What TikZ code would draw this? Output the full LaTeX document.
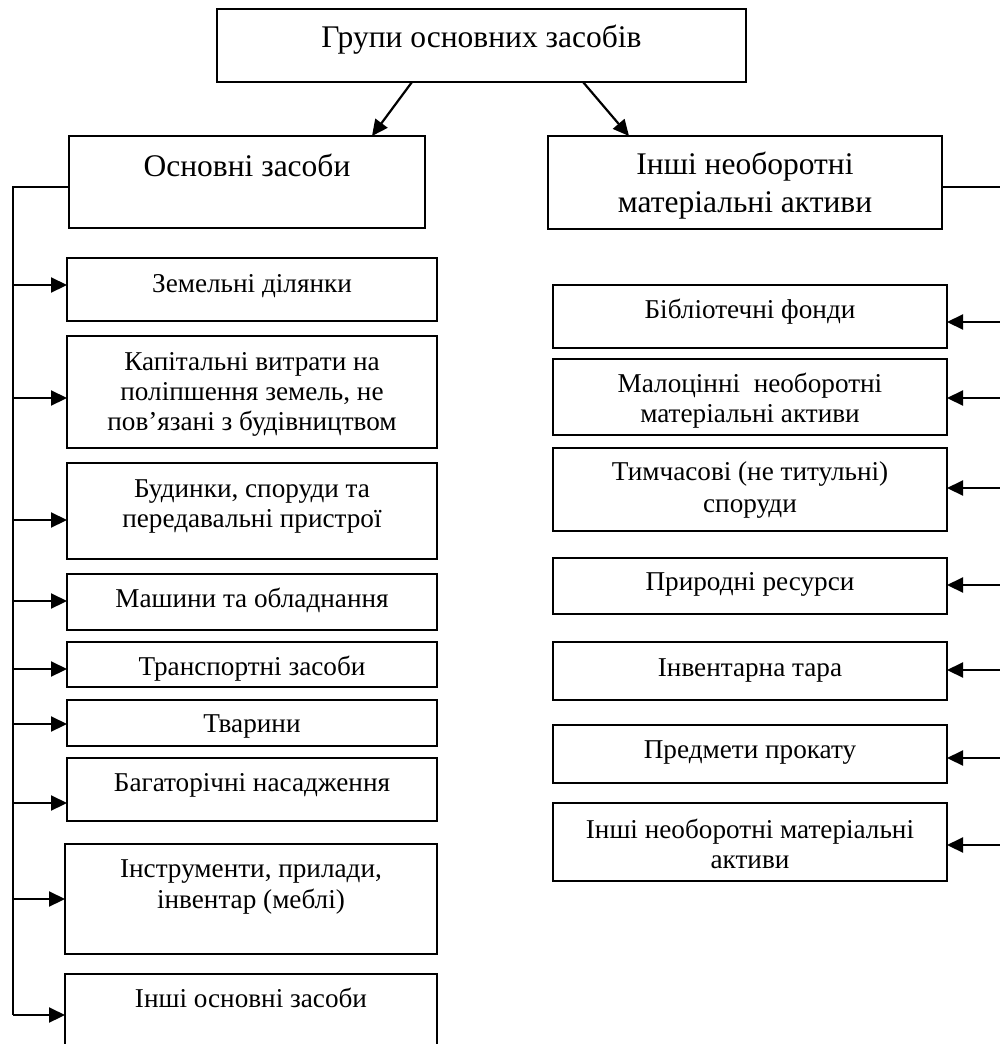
\documentclass[tikz,border=0pt]{standalone}
\usepackage{fontspec}
\setmainfont{Liberation Serif}
\usetikzlibrary{arrows.meta}
\tikzset{
  boxst/.style={draw, line width=2.2pt, inner sep=0pt, outer sep=0pt},
  big/.style={font=\fontsize{31.5}{38}\selectfont, anchor=base, inner sep=0pt},
  sml/.style={font=\fontsize{27.2}{30}\selectfont, anchor=base, inner sep=0pt},
  conn/.style={line width=2.2pt},
  arr/.style={line width=2.2pt, -{Triangle[length=16pt,width=15pt]}}
}
\newcommand{\bx}[5]{%
  \node[boxst, minimum width={(#4)-(#2)}, minimum height={(#5)-(#3)}] (#1) at ({((#2)+(#4))/2},{((#3)+(#5))/2}) {};}
\begin{document}
\begin{tikzpicture}[x=1pt,y=-1pt]
\useasboundingbox (0,0) rectangle (1000,1044);
\clip (0,0) rectangle (1000,1044);
\fill[white] (0,0) rectangle (1000,1044);
% top level
\bx{top}{217}{9}{746}{82}
\node[big] at (481.5,47) {Групи основних засобів};
\bx{os}{69}{136}{425}{228}
\node[big] at (247,176) {Основні засоби};
\bx{ina}{548}{136}{942}{229}
\node[big] at (745,174) {Інші необоротні};
\node[big] at (745,212) {матеріальні активи};
\draw[arr] ([xshift=-69.5pt]top.south) -- ([xshift=125pt]os.north);
\draw[arr] ([xshift=101.5pt]top.south) -- ([xshift=-116pt]ina.north);
% left column
\bx{l1}{67}{258}{437}{321}
\node[sml] at (252,292) {Земельні ділянки};
\bx{l2}{67}{336}{437}{448}
\node[sml] at (252,370) {Капітальні витрати на};
\node[sml] at (252,400) {поліпшення земель, не};
\node[sml] at (252,430) {пов’язані з будівництвом};
\bx{l3}{67}{463}{437}{559}
\node[sml] at (252,497) {Будинки, споруди та};
\node[sml] at (252,527) {передавальні пристрої};
\bx{l4}{67}{574}{437}{630}
\node[sml] at (252,607) {Машини та обладнання};
\bx{l5}{67}{642}{437}{687}
\node[sml] at (252,675) {Транспортні засоби};
\bx{l6}{67}{700}{437}{746}
\node[sml] at (252,732) {Тварини};
\bx{l7}{67}{758}{437}{821}
\node[sml] at (252,791) {Багаторічні насадження};
\bx{l8}{65}{844}{437}{954}
\node[sml] at (251,877) {Інструменти, прилади,};
\node[sml] at (251,908) {інвентар (меблі)};
\bx{l9}{65}{974}{437}{1070}
\node[sml] at (251,1007) {Інші основні засоби};
% right column
\bx{r1}{553}{285}{947}{348}
\node[sml] at (750,318) {Бібліотечні фонди};
\bx{r2}{553}{359}{947}{435}
\node[sml] at (750,392) {Малоцінні\ \ необоротні};
\node[sml] at (750,422) {матеріальні активи};
\bx{r3}{553}{448}{947}{531}
\node[sml] at (750,480) {Тимчасові (не титульні)};
\node[sml] at (750,512) {споруди};
\bx{r4}{553}{558}{947}{614}
\node[sml] at (750,590) {Природні ресурси};
\bx{r5}{553}{642}{947}{700}
\node[sml] at (750,676) {Інвентарна тара};
\bx{r6}{553}{725}{947}{783}
\node[sml] at (750,758) {Предмети прокату};
\bx{r7}{553}{803}{947}{881}
\node[sml] at (750,838) {Інші необоротні матеріальні};
\node[sml] at (750,868) {активи};
% left bus
\coordinate (ltop) at (13,187);
\coordinate (lbot) at (13,1015);
\draw[conn] (ltop -| os.west) -- (ltop) -- (lbot);
\foreach \n/\y in {l1/285,l2/398,l3/520,l4/601,l5/669,l6/724,l7/803,l8/899,l9/1015}{
  \coordinate (la) at (13,\y);
  \draw[arr] (la) -- (la -| \n.west);
}
% right bus
\coordinate (rtop) at (1004,187);
\coordinate (rbot) at (1004,845);
\draw[conn] (rtop -| ina.east) -- (rtop) -- (rbot);
\foreach \n/\y in {r1/322,r2/398,r3/488,r4/585,r5/670,r6/758,r7/845}{
  \coordinate (ra) at (1004,\y);
  \draw[arr] (ra) -- (ra -| \n.east);
}
\end{tikzpicture}
\end{document}
